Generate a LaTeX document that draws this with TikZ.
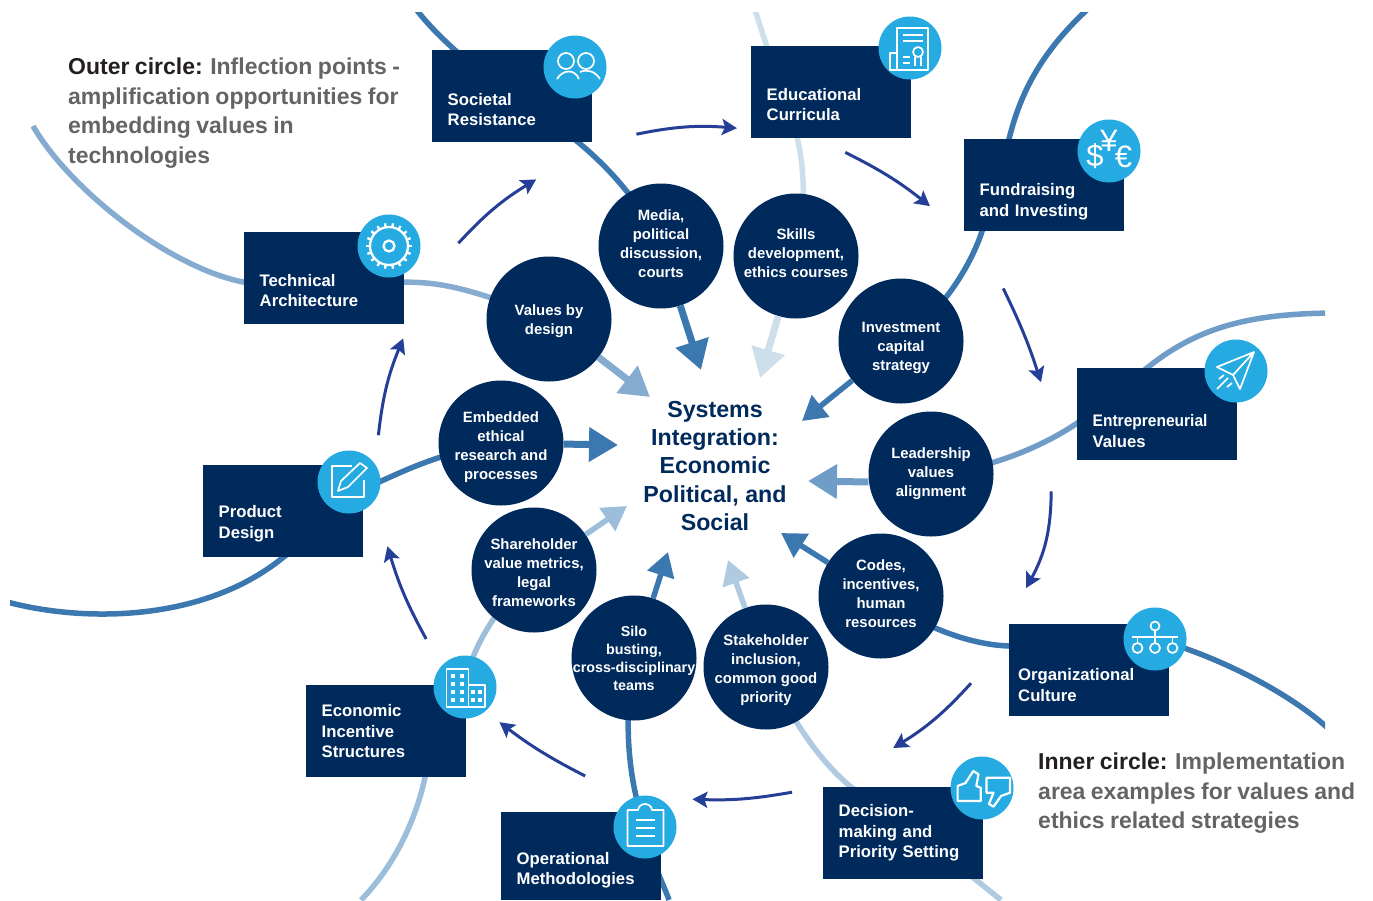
\documentclass[tikz,border=0pt]{standalone}
\usepackage{fontspec,graphicx}
\setmainfont{Liberation Sans}
\newfontfamily\notefont[WordSpace=0.85]{Liberation Sans}
\usetikzlibrary{arrows.meta,backgrounds}
\definecolor{navy}{HTML}{002A5C}
\definecolor{iconblue}{HTML}{25ABE2}
\definecolor{flowblue}{HTML}{253F98}
\definecolor{deepline}{HTML}{3B78B0}
\definecolor{midline}{HTML}{6F9DC8}
\definecolor{softline}{HTML}{86ABD1}
\definecolor{paleline}{HTML}{9DBEDB}
\definecolor{mistline}{HTML}{AFCAE1}
\definecolor{fogline}{HTML}{CEDFEC}
\definecolor{notegray}{HTML}{636466}
\definecolor{noteblack}{HTML}{231F20}
\tikzset{
    boxnode/.style={rectangle,fill=navy,text=white,anchor=north west,minimum width=160pt,minimum height=92pt,
        text width=129pt,inner xsep=15.5pt,inner ysep=0pt,align=left,
        font=\fontsize{16.7}{20.5}\selectfont\bfseries,execute at begin node={\rule{0pt}{#1}}},
    ringnode/.style={circle,fill=navy,text=white,minimum size=125pt,inner sep=-20pt,align=center,
        font=\fontsize{14.9}{19}\selectfont\bfseries},
    ringup/.style={ringnode,execute at end node={\rule[-#1]{0pt}{#1}}},
    iconnode/.style={circle,fill=iconblue,minimum size=63pt,inner sep=0pt},
    iconline/.style={draw=white,line width=1.7pt,line join=round},
    glyphnode/.style={text=white,inner sep=0pt,font=\fontsize{31}{31}\selectfont},
    notenode/.style={anchor=north west,inner sep=0pt,align=left,text=notegray,
        font=\notefont\fontsize{23}{29.5}\selectfont\bfseries},
    spiral/.style={line width=5.5pt},
    flowarrow/.style={draw=flowblue,line width=3pt,-{Stealth[length=15pt,width=16pt,inset=3pt]}},
    feedbig/.style={line width=7pt,-{Triangle[length=29pt,width=33pt]}},
    feedsmall/.style={line width=5.5pt,-{Triangle[length=24pt,width=27pt]}}
}
\begin{document}
\begin{tikzpicture}[x=1pt,y=-1pt]
    \useasboundingbox (0,0) rectangle (1373,900);
    % outer circle boxes
    \node[boxnode=39pt] (soc) at (432,50) {Societal\\Resistance};
    \node[boxnode=37pt] (edu) at (751,46) {Educational\\Curricula};
    \node[boxnode=45pt] (fund) at (964,139) {Fundraising\\and Investing};
    \node[boxnode=46pt] (ent) at (1077,368) {\scalebox{0.93}[1]{Entrepreneurial}\\Values};
    \node[boxnode=42pt,text width=142pt,inner xsep=9pt] (org) at (1009,624) {Organizational\\Culture};
    \node[boxnode=0pt] (dec) at (823,787) {Decision-\\making and\\Priority Setting};
    \node[boxnode=40pt,minimum height=88pt] (ops) at (501,812) {Operational\\Methodologies};
    \node[boxnode=0pt] (eco) at (306,685) {Economic\\Incentive\\Structures};
    \node[boxnode=37pt] (prod) at (203,465) {Product\\Design};
    \node[boxnode=37pt] (tech) at (244,232) {Technical\\Architecture};
    % icon discs
    \node[iconnode] (socIcon) at (575,67) {};
    \node[iconnode] (eduIcon) at (910,48) {};
    \node[iconnode] (fundIcon) at (1109,151) {};
    \node[iconnode] (entIcon) at (1236,371) {};
    \node[iconnode] (orgIcon) at (1155,639) {};
    \node[iconnode] (decIcon) at (982,788) {};
    \node[iconnode] (opsIcon) at (645,827) {};
    \node[iconnode] (ecoIcon) at (465,687) {};
    \node[iconnode] (prodIcon) at (349,482) {};
    \node[iconnode] (techIcon) at (389,246) {};
    % inner circle
    \node[ringup=4pt] (media) at (661,246) {Media,\\political\\discussion,\\courts};
    \node[ringup=6pt] (skill) at (796,256) {Skills\\development,\\ethics courses};
    \node[ringnode] (invest) at (901,341) {\rule{0pt}{25pt}Investment\\capital\\strategy};
    \node[ringnode] (lead) at (931,474) {Leadership\\values\\alignment};
    \node[ringup=4pt] (codes) at (881,596) {Codes,\\incentives,\\human\\resources};
    \node[ringnode] (stake) at (766,667) {\rule{0pt}{17pt}Stakeholder\\inclusion,\\common good\\priority};
    \node[ringnode,font=\fontsize{14.3}{18}\selectfont\bfseries] (silo) at (634,658) {Silo\\busting,\\cross-disciplinary\\teams};
    \node[ringnode] (share) at (534,570) {\rule{0pt}{17pt}Shareholder\\value metrics,\\legal\\frameworks};
    \node[ringnode] (embed) at (501,443) {\rule{0pt}{20pt}Embedded\\ethical\\research and\\processes};
    \node[ringnode] (val) at (549,319) {\rule{0pt}{15pt}Values by\\design};
    % centre and notes
    \node[align=center,inner sep=0pt,text=navy,font=\fontsize{23.2}{28.3}\selectfont\bfseries] (sys) at (715,466)
        {Systems\\Integration:\\Economic\\Political, and\\Social};
    \node[notenode] (outerNote) at (68,58) {\textcolor{noteblack}{Outer circle:} Inflection points -\\amplification opportunities for\\embedding values in\\technologies};
    \node[notenode] (innerNote) at (1038,753) {\textcolor{noteblack}{Inner circle:} Implementation\\area examples for values and\\ethics related strategies};
    % free ends of the long curves
    \coordinate (socFar) at (410,0);
    \coordinate (eduFar) at (752,0);
    \coordinate (fundFar) at (1098,0);
    \coordinate (entFar) at (1340,313);
    \coordinate (orgFar) at (1340,740);
    \coordinate (decFar) at (1001,900);
    \coordinate (opsFar) at (669,900);
    \coordinate (ecoFar) at (361,900);
    \coordinate (prodFar) at (0,600);
    \coordinate (techFar) at (33,126);
    \begin{scope}[on background layer]
        \clip (10,12) rectangle (1325,900);
        % long curves behind the nodes
        \draw[spiral,softline] (techFar) .. controls (70,190) and (170,268) .. ([shift={(0,4)}]tech.west) -- ([shift={(0,4)}]tech.east)
            .. controls (440,282) and (470,288) .. (val.center);
        \draw[spiral,deepline] (socFar) .. controls (428,30) and (475,69) .. (soc.center)
            .. controls (560,125) and (625,170) .. (media.center);
        \draw[spiral,fogline] (eduFar) .. controls (766,46) and (785,100) .. ([shift={(-34,0)}]edu.south)
            .. controls (803,160) and (808,210) .. (skill.center);
        \draw[spiral,deepline] (fundFar) .. controls (1040,50) and (1020,95) .. ([shift={(45,0)}]fund.north west) -- ([shift={(18,0)}]fund.south west)
            .. controls (972,262) and (945,310) .. (invest.center);
        \draw[spiral,midline] (entFar) .. controls (1255,313) and (1200,325) .. ([shift={(70,0)}]ent.north west) -- ([shift={(0,9)}]ent.west)
            .. controls (1045,445) and (990,470) .. (lead.center);
        \draw[spiral,deepline] (orgFar) .. controls (1298,695) and (1215,655) .. (orgIcon.center) -- ([shift={(0,22)}]org.north west)
            .. controls (975,645) and (925,630) .. (codes.center);
        \draw[spiral,mistline] (decFar) -- ([shift={(-8,0)}]dec.south east) -- ([shift={(28,0)}]dec.north west)
            .. controls (825,765) and (800,735) .. (stake.center);
        \draw[spiral,deepline] (opsFar) .. controls (662,880) and (650,860) .. (opsIcon.center)
            .. controls (628,780) and (623,720) .. (silo.center);
        \draw[spiral,paleline] (ecoFar) .. controls (400,860) and (418,810) .. ([shift={(119,0)}]eco.south west) -- (ecoIcon.center)
            .. controls (470,650) and (495,610) .. (share.center);
        \draw[spiral,deepline] (prodFar) .. controls (75,622) and (200,625) .. (prod.south) -- ([shift={(30,0)}]prodIcon.center)
            .. controls (400,473) and (440,452) .. (embed.center);
    \end{scope}
    % arrows into the centre
    \draw[feedbig,softline] (val) -- ([shift={(-65,-69)}]sys.center);
    \draw[feedbig,deepline] (media) -- ([shift={(-14,-96)}]sys.center);
    \draw[feedbig,fogline] (skill) -- ([shift={(45,-88)}]sys.center);
    \draw[feedsmall,deepline] (invest) -- ([shift={(87,-45)}]sys.center);
    \draw[feedbig,midline] ([shift={(0,8)}]lead.west) -- ([shift={(93,15)}]sys.center);
    \draw[feedsmall,deepline] (codes) -- ([shift={(66,67)}]sys.center);
    \draw[feedsmall,mistline] (stake) -- ([shift={(13,94)}]sys.center);
    \draw[feedsmall,deepline] (silo) -- ([shift={(-47,86)}]sys.center);
    \draw[feedsmall,paleline] (share) -- ([shift={(-88,40)}]sys.center);
    \draw[feedbig,deepline] (embed) -- ([shift={(-97,-21)}]sys.center);
    % arrows between the boxes
    \draw[flowarrow] ([shift={(54,-35)}]tech.east) to[bend left=8] ([shift={(24,37)}]soc.south);
    \draw[flowarrow] ([shift={(44,38)}]soc.east) to[bend left=8] ([shift={(-14,36)}]edu.west);
    \draw[flowarrow] ([shift={(14,14)}]edu.south) to[bend left=6] ([shift={(-34,21)}]fund.west);
    \draw[flowarrow] ([shift={(-41,57)}]fund.south) to[bend left=4] ([shift={(-36,-32)}]ent.west);
    \draw[flowarrow] ([shift={(-106,31)}]ent.south) to[bend left=14] ([shift={(-63,-36)}]org.north);
    \draw[flowarrow] ([shift={(-38,13)}]org.west) to[bend left=8] ([shift={(-10,-39)}]dec.north);
    \draw[flowarrow] ([shift={(-31,-41)}]dec.west) to[bend left=6] ([shift={(31,-57)}]ops.east);
    \draw[flowarrow] ([shift={(4,-36)}]ops.north) to[bend left=5] ([shift={(33,-9)}]eco.east);
    \draw[flowarrow] ([shift={(40,-46)}]eco.north) to[bend left=6] ([shift={(24,35)}]prod.east);
    \draw[flowarrow] ([shift={(15,-76)}]prod.east) to[bend left=8] ([shift={(79,14)}]tech.south);
    % people
    \begin{scope}[shift={(socIcon.center)},iconline]
        \draw (-9,-6) circle (8);
        \draw (11,-6) circle (8);
        \draw (-18,12) .. controls (-12,2) and (0,2) .. (4,12);
        \draw (5,5) .. controls (12,2) and (20,4) .. (25,12);
    \end{scope}
    % certificate
    \begin{scope}[shift={(eduIcon.center)},iconline]
        \draw (-13,5) -- (-13,-20) -- (18,-20) -- (18,22) -- (-20,22) -- (-20,5) -- (-13,5) -- (-13,22);
        \draw (-7,-13) -- (13,-13);
        \draw (-7,-7) -- (13,-7);
        \draw (-7,9) -- (0,9);
        \draw (-7,15) -- (0,15);
        \draw (8,4) circle (5);
        \draw (5,9) -- (5,18);
        \draw (11,9) -- (11,18);
    \end{scope}
    % currencies
    \begin{scope}[shift={(fundIcon.center)}]
        \node[glyphnode] (dollarSign) at (-14,5.5) {\$};
        \node[glyphnode] (yenSign) at (0,-10) {¥};
        \node[glyphnode] (euroSign) at (14.5,5.5) {€};
    \end{scope}
    % paper plane
    \begin{scope}[shift={(entIcon.center)},iconline]
        \draw (18,-19) -- (-19,-4) -- (-3,4) -- (18,-19) -- (4,18) -- (-3,4);
        \draw (-19,18) -- (-8,7);
        \draw (-17,8) -- (-12,4);
        \draw (-9,16) -- (-4,12);
    \end{scope}
    % hierarchy
    \begin{scope}[shift={(orgIcon.center)},iconline]
        \draw (0,-13) circle (4.5);
        \draw (0,-8.5) -- (0,4);
        \draw (-23,-2) -- (23,-2);
        \draw (-17.5,-2) -- (-17.5,4);
        \draw (17.5,-2) -- (17.5,4);
        \draw (-17.5,9) circle (5);
        \draw (0,9) circle (5);
        \draw (17.5,9) circle (5);
    \end{scope}
    % thumbs
    \begin{scope}[shift={(decIcon.center)},iconline,line width=2.2pt]
        \draw (-24.4,13) -- (-24.4,-2) -- (-16.5,-5) -- (-8.7,-17) -- (-3.5,-13.7) -- (-5.7,-2) -- (-1.3,-0.3) -- (-1.3,13) -- cycle;
        \draw (4.4,-10.3) -- (28,-10.3) -- (28,4.7) -- (19,8) -- (11.5,18.7) -- (7,16) -- (11.5,4.7) -- (4.4,4.7) -- cycle;
    \end{scope}
    % clipboard
    \begin{scope}[shift={(opsIcon.center)},iconline]
        \draw (-17.6,-17) -- (-7,-17) .. controls (-6,-25) and (6,-25) .. (7,-17) -- (18.5,-17) -- (18.5,19) -- (-17.6,19) -- cycle;
        \draw (-9,-7) -- (10,-7);
        \draw (-9,1) -- (10,1);
        \draw (-9,9) -- (10,9);
    \end{scope}
    % buildings
    \begin{scope}[shift={(ecoIcon.center)},iconline]
        \draw (3.5,20) -- (-18.5,20) -- (-18.5,-18) -- (3.5,-18) -- (3.5,20) -- (20,20) -- (20,-2) -- (3.5,-2);
        \foreach \wy in {-11,-3,5,13} {
            \fill[white] (-14,\wy-2) rectangle (-10,\wy+2);
            \fill[white] (-5,\wy-2) rectangle (-1,\wy+2);
        }
        \foreach \wy in {5,13} {
            \fill[white] (6,\wy-2) rectangle (10,\wy+2);
            \fill[white] (13,\wy-2) rectangle (17,\wy+2);
        }
    \end{scope}
    % pencil and page
    \begin{scope}[shift={(prodIcon.center)},iconline]
        \draw (3,-16) -- (-17,-16) -- (-17,15) -- (15,15) -- (15,-2);
        \draw (-11,9) -- (-8,-1) -- (11,-19) -- (18,-14) -- (-1,5) -- cycle;
    \end{scope}
    % gear
    \begin{scope}[shift={(techIcon.center)},iconline,line width=2.3pt]
        \draw (0,0) circle (5.5);
        \draw (0,0) circle (19);
        \foreach \ga in {0,20,...,340} {
            \draw (\ga:19) -- (\ga:23);
        }
    \end{scope}
\end{tikzpicture}
\end{document}
